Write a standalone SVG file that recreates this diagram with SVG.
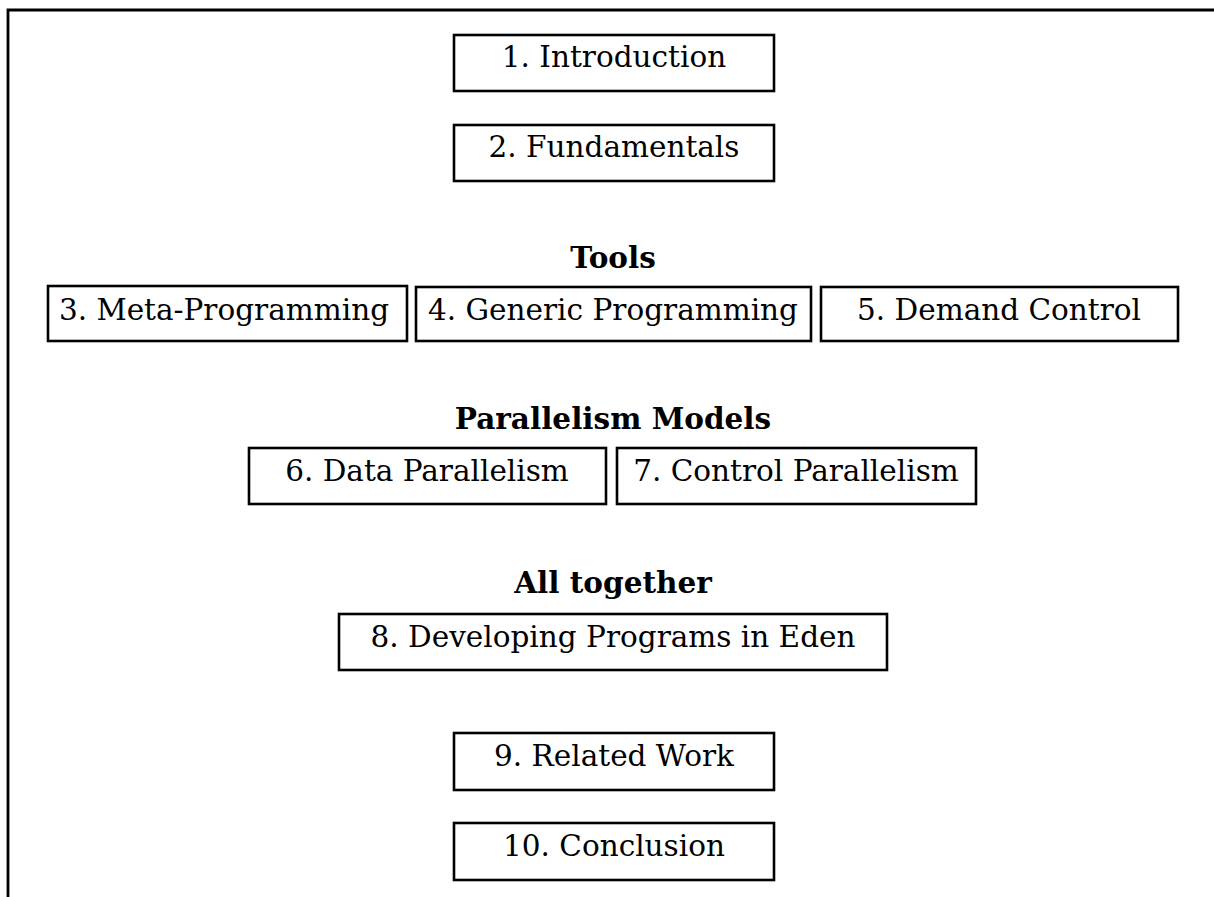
<svg xmlns="http://www.w3.org/2000/svg" width="1214" height="897" viewBox="0 0 1214 897">
  <style>
    .box { fill: #ffffff; stroke: #000000; stroke-width: 2.6; }
    .frame { fill: none; stroke: #000000; stroke-width: 2.8; }
    .lbl { font-family: "DejaVu Serif", "Liberation Serif", serif; font-size: 29.5px; fill: #000000; text-anchor: middle; }
    .head { font-family: "DejaVu Serif", "Liberation Serif", serif; font-size: 29.5px; font-weight: bold; fill: #000000; text-anchor: middle; }
  </style>
  <rect width="1214" height="897" fill="#ffffff"/>

  <!-- page frame: top and left rules -->
  <path class="frame" d="M8,897 V10 H1214"/>

  <!-- section headings -->
  <text class="head" x="613" y="268">Tools</text>
  <text class="head" x="613" y="429">Parallelism Models</text>
  <text class="head" x="613" y="593">All together</text>

  <g id="n1">
    <rect class="box" x="454" y="35" width="320" height="56"/>
    <text class="lbl" x="614" y="67">1. Introduction</text>
  </g>
  <g id="n2">
    <rect class="box" x="454" y="125" width="320" height="56"/>
    <text class="lbl" x="614" y="157">2. Fundamentals</text>
  </g>
  <g id="n3">
    <rect class="box" x="48" y="286" width="359" height="55"/>
    <text class="lbl" x="224" y="320">3. Meta-Programming</text>
  </g>
  <g id="n4">
    <rect class="box" x="416" y="287" width="395" height="54"/>
    <text class="lbl" x="613" y="320">4. Generic Programming</text>
  </g>
  <g id="n5">
    <rect class="box" x="821" y="287" width="357" height="54"/>
    <text class="lbl" x="999" y="320">5. Demand Control</text>
  </g>
  <g id="n6">
    <rect class="box" x="249" y="448" width="357" height="56"/>
    <text class="lbl" x="427" y="481">6. Data Parallelism</text>
  </g>
  <g id="n7">
    <rect class="box" x="617" y="448" width="359" height="56"/>
    <text class="lbl" x="796" y="481">7. Control Parallelism</text>
  </g>
  <g id="n8">
    <rect class="box" x="339" y="614" width="548" height="56"/>
    <text class="lbl" x="613" y="647">8. Developing Programs in Eden</text>
  </g>
  <g id="n9">
    <rect class="box" x="454" y="733" width="320" height="57"/>
    <text class="lbl" x="614" y="766">9. Related Work</text>
  </g>
  <g id="n10">
    <rect class="box" x="454" y="823" width="320" height="57"/>
    <text class="lbl" x="614" y="856">10. Conclusion</text>
  </g>

  <g id="connectors"></g>
</svg>
